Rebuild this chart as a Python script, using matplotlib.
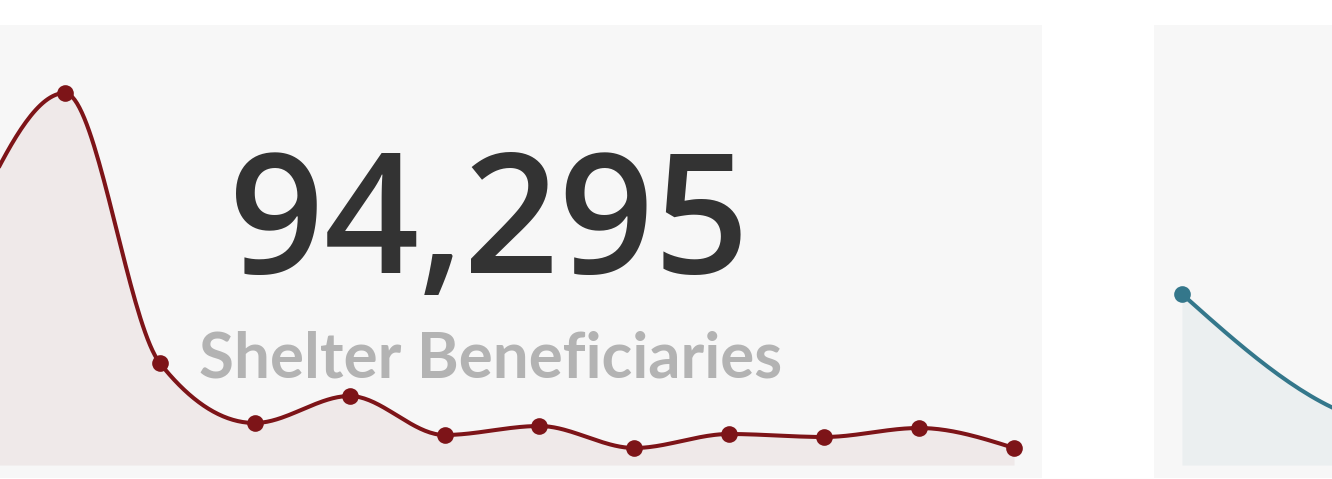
import numpy as np
import matplotlib
matplotlib.use("Agg")
import matplotlib.pyplot as plt
from matplotlib.patches import Rectangle

# ---- data ----
shelter_months = list(range(12))
shelter_values = [239, 372, 102, 42, 69, 30, 39, 17, 31, 28, 37, 17]
second_months = list(range(6))
second_values = [171, 40, 30, 45, 25, 35]
kpi_value = "94,295"
kpi_label = "Shelter Beneficiaries"

RED = "#7d1418"
RED_FILL = "#efe9e9"
TEAL = "#34778b"
TEAL_FILL = "#ebeff0"
PANEL = "#f7f7f7"

W, H = 1332, 479


def monotone_x(x, y, n=40):
    x = np.asarray(x, float)
    y = np.asarray(y, float)
    m = len(x)
    h = np.diff(x)
    s = np.diff(y) / h
    t = np.zeros(m)
    for i in range(1, m - 1):
        h0, h1, s0, s1 = h[i - 1], h[i], s[i - 1], s[i]
        p = (s0 * h1 + s1 * h0) / (h0 + h1)
        t[i] = (np.sign(s0) + np.sign(s1)) * min(abs(s0), abs(s1), 0.5 * abs(p))
    t[0] = (3 * s[0] - t[1]) / 2 if m > 2 else s[0]
    t[-1] = (3 * s[-1] - t[-2]) / 2 if m > 2 else s[-1]
    xs, ys = [], []
    for i in range(m - 1):
        u = np.linspace(0, 1, n)
        h00 = 2 * u**3 - 3 * u**2 + 1
        h10 = u**3 - 2 * u**2 + u
        h01 = -2 * u**3 + 3 * u**2
        h11 = u**3 - u**2
        yy = h00 * y[i] + h10 * h[i] * t[i] + h01 * y[i + 1] + h11 * h[i] * t[i + 1]
        xs.append(x[i] + u * h[i])
        ys.append(yy)
    return np.concatenate(xs), np.concatenate(ys)


fig = plt.figure(figsize=(W / 100, H / 100), dpi=100)
fig.patch.set_facecolor("white")


def px_rect(x0, y0, x1, y1, color):
    fig.add_artist(Rectangle((x0 / W, 1 - y1 / H), (x1 - x0) / W, (y1 - y0) / H,
                             transform=fig.transFigure, facecolor=color,
                             edgecolor="none", zorder=0))


px_rect(-58, 25, 1042, 478, PANEL)
px_rect(1154, 25, 2254, 478, PANEL)


def add_series(left_px, width_px, xs, vals, color, fill):
    ax = fig.add_axes([left_px / W, 1 - 465 / H, width_px / W, 440 / H])
    ax.set_xlim(xs[0], xs[-1])
    ax.set_ylim(0, 440)
    ax.axis("off")
    ax.patch.set_alpha(0)
    cx, cy = monotone_x(xs, vals)
    ax.fill_between(cx, 0, cy, color=fill, lw=0, zorder=1)
    ax.plot(cx, cy, color=color, lw=2.9, zorder=2, clip_on=False,
            solid_capstyle="round")
    ax.plot(xs, vals, "o", color=color, ms=12, mew=0, zorder=3, clip_on=False)
    return ax


add_series(-30, 1044, shelter_months, shelter_values, RED, RED_FILL)
add_series(1182, 1044, second_months, second_values, TEAL, TEAL_FILL)

fig.text(489 / W, 1 - 273 / H, kpi_value, fontsize=120, family="Open Sans",
         weight="semibold", color="#333333", ha="center", va="baseline", zorder=5)
lbl = fig.text(491 / W, 1 - 378 / H, kpi_label, fontsize=48, family="Lato",
               weight="bold", color="#b3b3b3", ha="center", va="baseline", zorder=5)

# fit label width to the reference span (~583 px)
r = fig.canvas.get_renderer()
wpx = lbl.get_window_extent(r).width
lbl.set_fontsize(48 * 583 / wpx)

fig.savefig("out.png", dpi=100, facecolor="white")
